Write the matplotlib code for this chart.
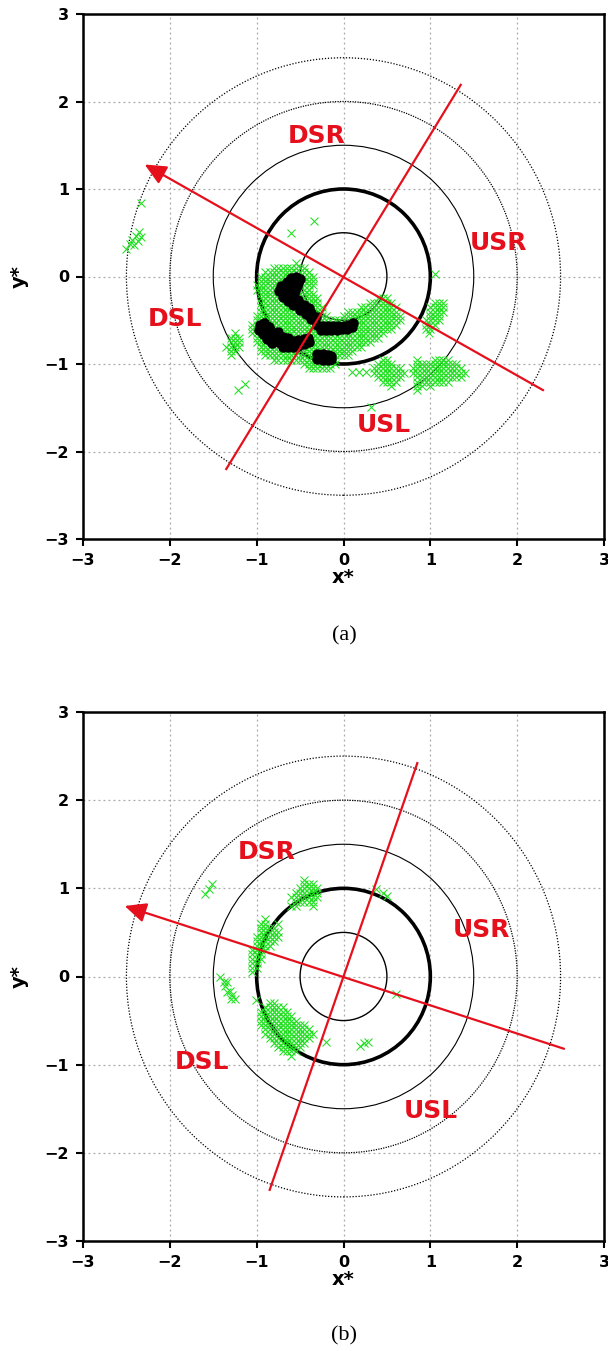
import numpy as np
import matplotlib
matplotlib.use("Agg")
import matplotlib.pyplot as plt
from matplotlib.patches import Circle

plt.rcParams['font.family'] = ['DejaVu Sans']

RED = '#e5101c'
GREEN = '#20de20'
GRID_STEP = 0.05

ticks = [-3, -2, -1, 0, 1, 2, 3]
ring_radii = [0.5, 1.0, 1.5, 2.0, 2.5]
ring_widths = [1.0, 2.6, 0.8, 0.9, 0.9]
ring_styles = ['-', '-', '-', (0, (1, 1)), (0, (1, 1.4))]

# ---------------- panel (a) ----------------
a_shear_line = [(-1.35, -2.20), (1.35, 2.19)]
a_arrow = [(2.30, -1.30), (-2.29, 1.28)]          # tail, head
a_quadrants = ['DSR', 'USR', 'DSL', 'USL']
a_quadrant_xy = [(-0.31, 1.61), (1.79, 0.38), (-1.94, -0.49), (0.47, -1.70)]

# green crosses, gridded clusters: (left x, top y, rows)
a_main = (-1.05, 0.15, [
    "..........x........................",
    ".....xxxxxxxx......................",
    "...xxxxxxxxxxx.....................",
    "..xxxxxxxxxxxxx....................",
    "..xxxxxxxxxxxxx....................",
    ".xxxxxxxxxxxxxx....................",
    ".xxxxxxxxxxxxx.....................",
    "..xxxxxxxxxxxxx....................",
    "..xxxxxxxxxxxxxx.............xxx...",
    "..xxxxxxxxxxxxxx...........xxxxxx..",
    "..xxxxxxxxxxxxxxx........xxxxxxxxx.",
    "..xxxxxxxxxxxxxxx.....xxxxxxxxxxxx.",
    ".xxxxxxxxxxxxxxxxx...xxxxxxxxxxxxxx",
    ".xxxxxxxxxxxxxxxxxxxxxxxxxxxxxxxxxx",
    "xxxxxxxxxxxxxxxxxxxxxxxxxxxxxxxxxx.",
    "xxxxxxxxxxxxxxxxxxxxxxxxxxxxxxxxx..",
    "xxxxxxxxxxxxxxxxxxxxxxxxxxxxxxx....",
    ".xxxxxxxxxxxxxxxxxxxxxxxxxxxxx.....",
    ".xxxxxxxxxxxxxxxxxxxxxxxxxxx.......",
    "..xxxxxxxxxxxxxxxxxxxxxxxx.........",
    "..xxxxxxxxxxxxxxxxxxxxxx...........",
    "...xxxxxxxxxxxxxxxxxxxx............",
    ".....xxxxxxxxxxxxxxx...............",
    "............xxxxxxxx...............",
    ".............xxxxxx................",
])
a_right = (0.95, -0.30, [
    "..xxx",
    ".xxxx",
    ".xxxx",
    ".xxx.",
    "xxxx.",
    "xxx..",
    "xx...",
])
a_left = (-1.35, -0.65, [
    "..x.",
    ".xxx",
    ".xxx",
    "xxxx",
    ".xx.",
    ".x..",
])
a_lower_mid = (0.35, -0.95, [
    "..xx....",
    ".xxxx...",
    "xxxxxxx.",
    "xxxxxxxx",
    ".xxxxxx.",
    "..xxxx..",
    "....x...",
])
a_lower_right = (0.80, -0.95, [
    ".x...xxxx....",
    ".xxxxxxxxxx..",
    "xxxxxxxxxxxx.",
    "xxxxxxxxxxxxx",
    ".xxxxxxxxxxx.",
    ".xxxxxxxx....",
    ".xx.x........",
    ".x...........",
])
a_far_x = [-2.35, -2.39, -2.33, -2.43, -2.37, -2.46, -2.50, -2.41, -2.33]
a_far_y = [0.51, 0.46, 0.45, 0.42, 0.41, 0.37, 0.31, 0.36, 0.84]
a_single_x = [-0.34, -0.61, 1.05, 0.32, -1.21, -1.14, 0.10, 0.18, 0.26, 0.98]
a_single_y = [0.63, 0.50, 0.03, -1.49, -1.30, -1.23, -1.09, -1.09, -1.09, -0.65]

# black track of filled dots
a_track_x = [
    -0.55, -0.50, -0.60, -0.65, -0.58, -0.52, -0.72, -0.66, -0.60, -0.54,
    -0.74, -0.68, -0.62, -0.56, -0.70, -0.64, -0.58, -0.64, -0.58, -0.52,
    -0.58, -0.52, -0.46, -0.50, -0.44, -0.40, -0.43, -0.37, -0.37, -0.32,
    -0.30, -0.24, -0.18, -0.12, -0.06, 0.00, 0.06, 0.11,
    -0.26, -0.20, -0.14, -0.08, -0.02, 0.04, 0.10,
    -0.96, -0.92, -0.97, -0.91, -0.86, -0.93, -0.87, -0.81, -0.76,
    -0.88, -0.82, -0.76, -0.70, -0.64,
    -0.82, -0.76, -0.70, -0.64, -0.58, -0.52, -0.46, -0.41,
    -0.70, -0.64, -0.58, -0.52, -0.46, -0.40,
    -0.30, -0.24, -0.18, -0.14, -0.30, -0.24, -0.18, -0.14,
]
a_track_y = [
    -0.01, -0.03, -0.02, -0.06, -0.06, -0.07, -0.11, -0.12, -0.11, -0.11,
    -0.17, -0.18, -0.17, -0.16, -0.23, -0.23, -0.22, -0.28, -0.28, -0.27,
    -0.33, -0.33, -0.32, -0.38, -0.38, -0.36, -0.43, -0.42, -0.48, -0.46,
    -0.55, -0.56, -0.57, -0.57, -0.57, -0.56, -0.55, -0.53,
    -0.61, -0.61, -0.61, -0.61, -0.60, -0.60, -0.58,
    -0.55, -0.53, -0.61, -0.60, -0.58, -0.66, -0.65, -0.64, -0.63,
    -0.71, -0.70, -0.69, -0.69, -0.70,
    -0.76, -0.75, -0.75, -0.75, -0.74, -0.73, -0.71, -0.70,
    -0.80, -0.81, -0.80, -0.79, -0.77, -0.75,
    -0.89, -0.89, -0.90, -0.91, -0.94, -0.95, -0.95, -0.94,
]

# ---------------- panel (b) ----------------
b_shear_line = [(-0.85, -2.42), (0.85, 2.42)]
b_arrow = [(2.54, -0.82), (-2.52, 0.80)]
b_quadrants = ['DSR', 'USR', 'DSL', 'USL']
b_quadrant_xy = [(-0.88, 1.41), (1.59, 0.53), (-1.63, -0.97), (1.01, -1.52)]

b_upper = (-0.60, 1.10, [
    "...x...",
    "...xxx.",
    "..xxxxx",
    ".xxxxxx",
    "xxxxxxx",
    ".xxxxx.",
    "xx...x.",
])
b_arc = (-1.05, 0.65, [
    "...x...",
    "..xx..x",
    "..xxxx.",
    "..xxxxx",
    ".xxxxxx",
    ".xxxxx.",
    ".xxxx..",
    "xxxx...",
    "xxx....",
    "xxx....",
    "xx.....",
    "xx.....",
    "x......",
])
b_lower = (-0.95, -0.30, [
    "..xx.........",
    ".xxxxx.......",
    "xxxxxxx......",
    "xxxxxxxx.....",
    "xxxxxxxxx....",
    "xxxxxxxxxxx..",
    ".xxxxxxxxxxx.",
    ".xxxxxxxxxxxx",
    "..xxxxxxxxxx.",
    "...xxxxxxxx..",
    "....xxxxxx...",
    ".....xxxx....",
    ".......x.....",
])
b_single_x = [-1.52, -1.55, -1.59, 0.38, 0.45, 0.50, -1.42, -1.38, -1.34, -1.36,
              -1.31, -1.34, -1.28, -1.25, -1.30, -1.01, -0.20, 0.19, 0.24, 0.28, 0.61]
b_single_y = [1.05, 0.99, 0.94, 0.99, 0.95, 0.91, -0.01, -0.06, -0.06, -0.11,
              -0.16, -0.18, -0.21, -0.26, -0.26, -0.27, -0.74, -0.79, -0.75, -0.74, -0.20]


def grid_points(cluster):
    x0, y0, rows = cluster
    xs, ys = [], []
    for r, row in enumerate(rows):
        for c, ch in enumerate(row):
            if ch == 'x':
                xs.append(x0 + GRID_STEP * c)
                ys.append(y0 - GRID_STEP * r)
    return xs, ys


def collect(clusters, extra_x, extra_y):
    xs, ys = list(extra_x), list(extra_y)
    for cl in clusters:
        cx, cy = grid_points(cl)
        xs += cx
        ys += cy
    return np.array(xs), np.array(ys)


def draw_panel(ax, green_x, green_y, shear_line, arrow, labels, label_xy,
               track_x=None, track_y=None):
    ax.set_xlim(-3, 3)
    ax.set_ylim(-3, 3)
    ax.set_xticks(ticks)
    ax.set_yticks(ticks)
    ax.grid(True, color='#a8a8a8', linestyle=(0, (1.5, 2.5)), linewidth=0.9)
    ax.set_axisbelow(True)
    for r, lw, ls in zip(ring_radii, ring_widths, ring_styles):
        ax.add_patch(Circle((0, 0), r, fill=False, edgecolor='black',
                            linewidth=lw, linestyle=ls, zorder=2))
    ax.plot(green_x, green_y, linestyle='none', marker='x', markersize=6,
            markeredgewidth=0.75, color=GREEN, zorder=3)
    if track_x is not None:
        ax.plot(track_x, track_y, linestyle='none', marker='o', markersize=6.5,
                color='black', zorder=4)
    (x1, y1), (x2, y2) = shear_line
    ax.plot([x1, x2], [y1, y2], color=RED, linewidth=1.6, zorder=5)
    (tx, ty), (hx, hy) = arrow
    ax.annotate('', xy=(hx, hy), xytext=(tx, ty),
                arrowprops=dict(arrowstyle='-|>,head_length=0.65,head_width=0.3',
                                color=RED, linewidth=1.6, shrinkA=0, shrinkB=0,
                                mutation_scale=20), zorder=5)
    for lab, (lx, ly) in zip(labels, label_xy):
        ax.text(lx, ly, lab, color=RED, fontsize=18, fontweight='bold',
                ha='center', va='center', zorder=6)
    for s in ax.spines.values():
        s.set_linewidth(1.8)
    ax.tick_params(axis='both', which='both', direction='out', length=5,
                   width=1.5, labelsize=11.5, top=False, right=False, pad=5)
    for t in ax.get_xticklabels() + ax.get_yticklabels():
        t.set_fontweight('bold')
    ax.set_xlabel('x*', fontsize=14, fontweight='bold')
    ax.set_ylabel('y*', fontsize=14, fontweight='bold')
    ax.xaxis.set_label_coords(0.5, -0.055)
    ax.yaxis.set_label_coords(-0.105, 0.5)


fig = plt.figure(figsize=(6.08, 13.51), dpi=100)
ax_a = fig.add_axes([83 / 608, 1 - 539 / 1351, 521 / 608, 525 / 1351])
ax_b = fig.add_axes([83 / 608, 1 - 1241 / 1351, 521 / 608, 529 / 1351])

ga_x, ga_y = collect([a_main, a_right, a_left, a_lower_mid, a_lower_right],
                     a_far_x + a_single_x, a_far_y + a_single_y)
draw_panel(ax_a, ga_x, ga_y, a_shear_line, a_arrow, a_quadrants, a_quadrant_xy,
           a_track_x, a_track_y)

gb_x, gb_y = collect([b_upper, b_arc, b_lower], b_single_x, b_single_y)
draw_panel(ax_b, gb_x, gb_y, b_shear_line, b_arrow, b_quadrants, b_quadrant_xy)

fig.text(344 / 608, 1 - 636 / 1351, '(a)', fontsize=16, family='Liberation Serif',
         ha='center', va='center')
fig.text(344 / 608, 1 - 1336 / 1351, '(b)', fontsize=16, family='Liberation Serif',
         ha='center', va='center')

fig.savefig('out.png', dpi=100)
